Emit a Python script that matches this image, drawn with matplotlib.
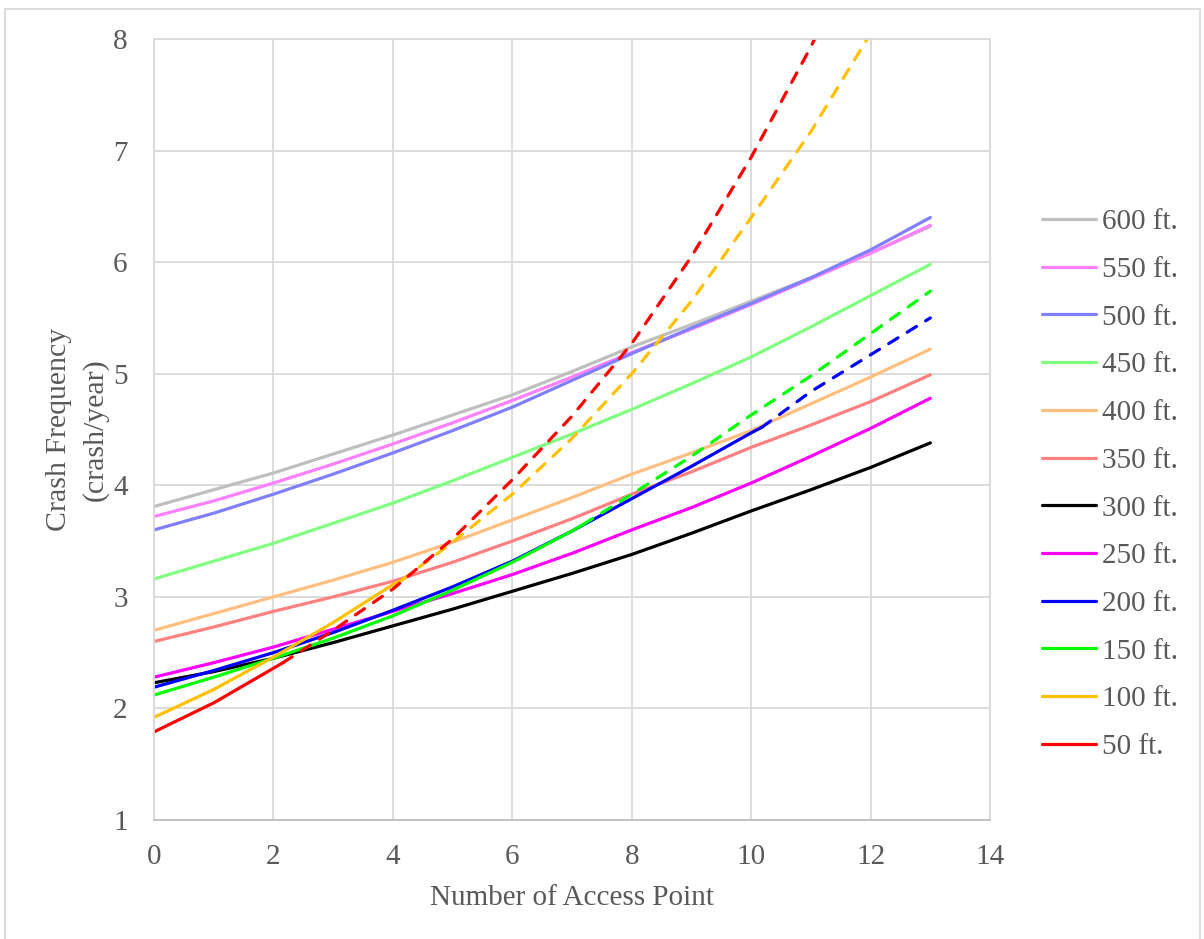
import matplotlib
matplotlib.use("Agg")
import matplotlib.pyplot as plt
import numpy as np
from matplotlib.patches import Rectangle

plt.rcParams["font.family"] = ["Liberation Serif", "DejaVu Serif"]

access_points = list(range(14))

# crash frequency per spacing, read at 0..13 access points
freq_600 = [3.81, 3.96, 4.11, 4.28, 4.45, 4.63, 4.81, 5.02, 5.24, 5.44, 5.65, 5.86, 6.08, 6.32]
freq_550 = [3.72, 3.86, 4.02, 4.19, 4.37, 4.56, 4.76, 4.97, 5.19, 5.40, 5.62, 5.85, 6.08, 6.33]
freq_500 = [3.60, 3.75, 3.92, 4.10, 4.29, 4.49, 4.70, 4.94, 5.18, 5.41, 5.63, 5.86, 6.11, 6.40]
freq_450 = [3.16, 3.32, 3.48, 3.66, 3.84, 4.04, 4.25, 4.46, 4.68, 4.91, 5.15, 5.42, 5.70, 5.98]
freq_400 = [2.70, 2.85, 3.00, 3.15, 3.31, 3.49, 3.69, 3.89, 4.10, 4.29, 4.49, 4.73, 4.97, 5.22]
freq_350 = [2.60, 2.73, 2.87, 3.00, 3.14, 3.31, 3.50, 3.70, 3.92, 4.12, 4.34, 4.54, 4.75, 4.99]
freq_300 = [2.23, 2.33, 2.45, 2.59, 2.74, 2.89, 3.05, 3.21, 3.38, 3.57, 3.77, 3.96, 4.16, 4.38]
freq_250 = [2.28, 2.41, 2.55, 2.71, 2.87, 3.03, 3.20, 3.39, 3.60, 3.80, 4.02, 4.26, 4.51, 4.78]
freq_200 = [2.19, 2.34, 2.50, 2.68, 2.88, 3.09, 3.32, 3.59, 3.88, 4.17, 4.47, 4.84, 5.17, 5.50]
freq_150 = [2.12, 2.28, 2.45, 2.63, 2.83, 3.06, 3.31, 3.59, 3.92, 4.26, 4.63, 4.98, 5.36, 5.74]
freq_100 = [1.92, 2.17, 2.46, 2.77, 3.11, 3.49, 3.92, 4.42, 5.00, 5.65, 6.40, 7.17, 8.05, 9.00]
freq_50 = [1.79, 2.05, 2.36, 2.70, 3.07, 3.52, 4.05, 4.62, 5.27, 6.05, 6.94, 7.93, 9.05, 10.30]

labels = ["600 ft.", "550 ft.", "500 ft.", "450 ft.", "400 ft.", "350 ft.",
          "300 ft.", "250 ft.", "200 ft.", "150 ft.", "100 ft.", "50 ft."]
series = [freq_600, freq_550, freq_500, freq_450, freq_400, freq_350,
          freq_300, freq_250, freq_200, freq_150, freq_100, freq_50]
colors = ["#BFBFBF", "#FF80FF", "#8080FF", "#80FF80", "#FFBF80", "#FF8080",
          "#000000", "#FF00FF", "#0000FF", "#00FF00", "#FFC000", "#FF0000"]

# where the solid part stops and the dashed extension begins (None = all solid)
dash_start_x = [None, None, None, None, None, None, None, None, 10.18, 7.19, 4.15, 2.16]
dash_start_y = [None, None, None, None, None, None, None, None, 4.52, 3.65, 3.15, 2.41]

fig = plt.figure(figsize=(12.04, 9.39), dpi=100)
ax = fig.add_axes([0.1279, 0.1267, 0.6944, 0.8318])

xs = np.array(access_points, dtype=float)
for ys, label, color, bx, by in zip(series, labels, colors, dash_start_x, dash_start_y):
    ys = np.array(ys)
    if bx is None:
        ax.plot(xs, ys, color=color, lw=2.3, label=label, solid_capstyle="round")
        continue
    before = xs < bx
    ax.plot(list(xs[before]) + [bx], list(ys[before]) + [by], color=color, lw=2.3,
            label=label, solid_capstyle="round")
    ax.plot([bx] + list(xs[~before]), [by] + list(ys[~before]), color=color, lw=2.3,
            linestyle=(0, (3.4, 3.4)), dash_capstyle="round")

ax.set_xlim(0, 14)
ax.set_ylim(1, 8)
ax.set_xticks(range(0, 15, 2))
ax.set_yticks(range(1, 9))
ax.grid(True, color="#D9D9D9", lw=1.3)
ax.set_axisbelow(True)
for side, spine in ax.spines.items():
    spine.set_color("#D9D9D9")
    spine.set_linewidth(1.3)
ax.spines["bottom"].set_color("#BFBFBF")
ax.tick_params(length=0, labelsize=21, colors="#595959")
ax.tick_params(axis="x", pad=17)
ax.tick_params(axis="y", pad=19)

ax.set_xlabel("Number of Access Point", fontsize=21, color="#595959", labelpad=11)
ax.set_ylabel("Crash Frequency\n(crash/year)", fontsize=21.5, color="#595959", labelpad=3,
              linespacing=1.5)

fig.legend(loc="upper left", bbox_to_anchor=(0.856, 0.79), frameon=False, fontsize=21,
           labelcolor="#595959", handlelength=1.85, handletextpad=0.2, labelspacing=0.73,
           borderaxespad=0)

fig.add_artist(Rectangle((0.004, -0.01), 0.993, 1.0, transform=fig.transFigure,
                         fill=False, edgecolor="#D9D9D9", lw=1.3))

fig.savefig("out.png", dpi=100)
